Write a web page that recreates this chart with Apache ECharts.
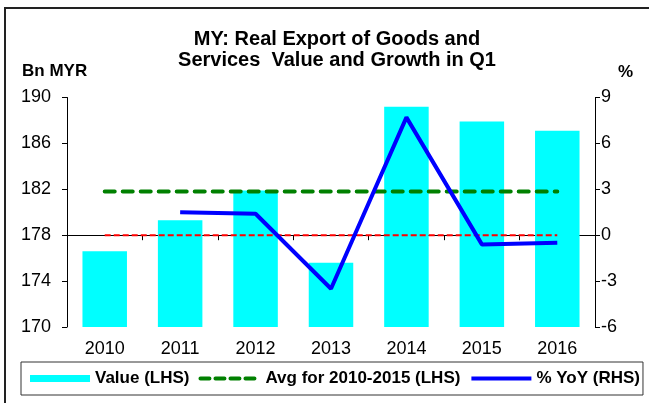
<!DOCTYPE html>
<html>
<head>
<meta charset="utf-8">
<script src="https://cdn.jsdelivr.net/npm/echarts@6/dist/echarts.min.js"></script>
<style>
  html, body { margin: 0; padding: 0; background: #fff; }
  .chart { width: 649px; height: 403px; }
</style>
</head>
<body>
<div class="chart"></div>
<script>
// 数据
const years = ['2010', '2011', '2012', '2013', '2014', '2015', '2016']
const valueData = [176.6, 179.3, 181.9, 175.6, 189.2, 187.9, 187.1]
const avgData = [181.8, 181.8, 181.8, 181.8, 181.8, 181.8, 181.8]
const yoyData = ['-', 1.5, 1.4, -3.5, 7.7, -0.6, -0.5]
const zeroData = [0, 0, 0, 0, 0, 0, 0]

const font = 'Arial, "Liberation Sans", sans-serif'

;(function () {
  let myChart = echarts.init(document.querySelector('.chart'))
  // 图例里的折线不显示圆点
  const noDot = { opacity: 0, color: 'rgba(0,0,0,0)', borderWidth: 0 }
  let option = {
    animation: false,
    backgroundColor: '#fff',
    textStyle: { fontFamily: font },
    title: {
      text: 'MY: Real Export of Goods and\nServices  Value and Growth in Q1',
      left: 332,
      top: 24,
      textAlign: 'center',
      textStyle: {
        fontFamily: font,
        fontSize: 20,
        fontWeight: 'bold',
        color: '#000',
        lineHeight: 21
      }
    },
    // 外框 + 轴标题
    graphic: [
      {
        type: 'polyline',
        shape: { points: [[5, 403], [5, 8], [649, 8]] },
        style: { stroke: '#222', lineWidth: 2, fill: null }
      },
      {
        type: 'text',
        left: 22, top: 63,
        style: { text: 'Bn MYR', font: 'bold 17px ' + font, fill: '#000' }
      },
      {
        type: 'text',
        left: 618, top: 64,
        style: { text: '%', font: 'bold 17px ' + font, fill: '#000' }
      }
    ],
    legend: {
      left: 21,
      top: 362,
      padding: [8, 3, 8, 9],
      borderColor: '#333',
      borderWidth: 1,
      itemWidth: 60,
      itemHeight: 7,
      itemGap: 9,
      textStyle: { fontFamily: font, fontSize: 17, fontWeight: 'bold', color: '#000' },
      data: [
        { name: 'Value (LHS)', icon: 'rect' },
        {
          name: 'Avg for 2010-2015 (LHS)',
          itemStyle: noDot,
          lineStyle: { color: '#008000', width: 4, type: [9, 6], cap: 'round' }
        },
        {
          name: '% YoY (RHS)',
          itemStyle: noDot,
          lineStyle: { color: '#0000FF', width: 4 }
        }
      ]
    },
    grid: {
      left: 67,
      right: 54,
      top: 97.5,
      bottom: 76
    },
    xAxis: {
      type: 'category',
      data: years,
      axisLine: { lineStyle: { color: '#000', width: 1 } },
      axisTick: { show: true, length: 5, lineStyle: { color: '#000' } },
      axisLabel: { color: '#000', fontSize: 18, fontFamily: font, margin: 13 }
    },
    yAxis: [
      {
        type: 'value',
        min: 170,
        max: 190,
        interval: 4,
        axisLine: { show: true, lineStyle: { color: '#000' } },
        axisTick: { show: true, length: 5, lineStyle: { color: '#000' } },
        axisLabel: { color: '#000', fontSize: 18, fontFamily: font, margin: 16 },
        splitLine: { show: false }
      },
      {
        type: 'value',
        min: -6,
        max: 9,
        interval: 3,
        position: 'right',
        axisLine: { show: true, lineStyle: { color: '#000' } },
        axisTick: { show: true, length: 5, lineStyle: { color: '#000' } },
        axisLabel: { color: '#000', fontSize: 18, fontFamily: font, margin: 6 },
        splitLine: { show: false }
      }
    ],
    series: [
      {
        name: 'Value (LHS)',
        type: 'bar',
        yAxisIndex: 0,
        barWidth: '59%',
        itemStyle: { color: '#00FFFF' },
        data: valueData
      },
      {
        name: 'Avg for 2010-2015 (LHS)',
        type: 'line',
        yAxisIndex: 0,
        symbol: 'none',
        lineStyle: { color: '#008000', width: 4, type: [10, 8], cap: 'round' },
        itemStyle: { color: '#008000' },
        data: avgData
      },
      {
        // 零线（右轴 0）
        name: 'zero',
        type: 'line',
        yAxisIndex: 1,
        symbol: 'none',
        lineStyle: { color: '#FF0000', width: 2, type: [6, 3] },
        data: zeroData
      },
      {
        name: '% YoY (RHS)',
        type: 'line',
        yAxisIndex: 1,
        symbol: 'none',
        lineStyle: { color: '#0000FF', width: 4 },
        itemStyle: { color: '#0000FF' },
        data: yoyData
      }
    ]
  }
  myChart.setOption(option)
})();
</script>
</body>
</html>
